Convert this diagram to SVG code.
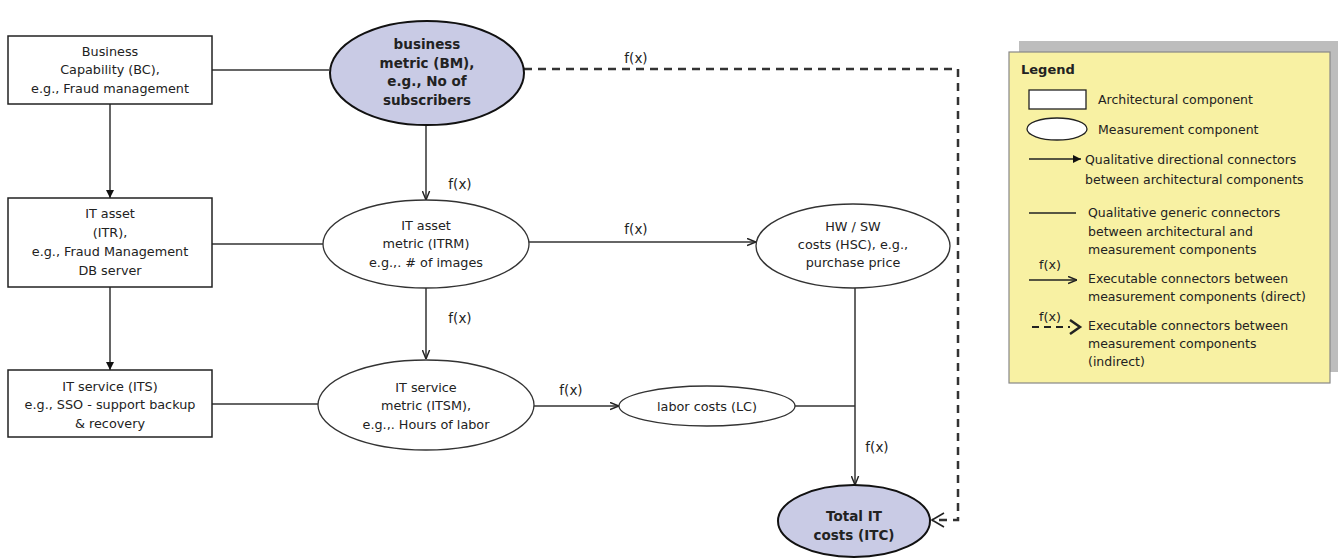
<svg xmlns="http://www.w3.org/2000/svg" width="1338" height="558" viewBox="0 0 1338 558">
<defs>
<marker id="tri" viewBox="0 0 10 10" refX="10" refY="5" markerWidth="8" markerHeight="8" markerUnits="userSpaceOnUse" orient="auto"><path d="M0,0 L10,5 L0,10 z" fill="#111"/></marker>
<marker id="vee" viewBox="0 0 10 10" refX="10" refY="5" markerWidth="9" markerHeight="9" markerUnits="userSpaceOnUse" orient="auto"><path d="M0,1 L10,5 L0,9" fill="none" stroke="#222" stroke-width="1.6"/></marker>
</defs>
<style>
text{font-family:"DejaVu Sans","Liberation Sans",sans-serif;font-size:12.8px;fill:#222;text-anchor:middle}
.b{font-weight:bold;font-size:13.5px}
.l{text-anchor:start;font-size:12.5px}
.f{font-size:13.5px}
.arch{fill:#fff;stroke:#222;stroke-width:1.5}
.meas{fill:#fff;stroke:#333;stroke-width:1.3}
.key{fill:#c9cbe5;stroke:#111;stroke-width:2}
.c{fill:none;stroke:#333;stroke-width:1.5}
.d{fill:none;stroke:#333;stroke-width:2.5;stroke-dasharray:8 6}
</style>
<rect width="1338" height="558" fill="#fff"/>
<g id="connectors">
<line class="c" x1="212" y1="70" x2="329" y2="70"/>
<line class="c" x1="110" y1="104" x2="110" y2="198" marker-end="url(#tri)"/>
<line class="c" x1="110" y1="287" x2="110" y2="370" marker-end="url(#tri)"/>
<line class="c" x1="212" y1="244" x2="323" y2="244"/>
<line class="c" x1="212" y1="404" x2="318" y2="404"/>
<line class="c" x1="426" y1="125" x2="426" y2="200" marker-end="url(#vee)"/>
<text class="f" x="460" y="189">f(x)</text>
<line class="c" x1="426" y1="288" x2="426" y2="359" marker-end="url(#vee)"/>
<text class="f" x="460" y="323">f(x)</text>
<line class="c" x1="529" y1="242" x2="756" y2="242" marker-end="url(#vee)"/>
<text class="f" x="636" y="234">f(x)</text>
<line class="c" x1="533" y1="406" x2="619" y2="406" marker-end="url(#vee)"/>
<text class="f" x="571" y="395">f(x)</text>
<line class="c" x1="795" y1="406" x2="855" y2="406"/>
<line class="c" x1="855" y1="288" x2="855" y2="406"/>
<line class="c" x1="855" y1="406" x2="855" y2="485" marker-end="url(#vee)"/>
<text class="f" x="877" y="452">f(x)</text>
<path class="d" d="M524,69 H958 V520 H932"/>
<path d="M944,513 L932,520 L944,527" fill="none" stroke="#222" stroke-width="1.6"/>
<text class="f" x="636" y="63">f(x)</text>
</g>
<g id="bc">
<rect class="arch" x="8" y="36" width="204" height="68"/>
<text x="110" y="56">Business</text>
<text x="110" y="74">Capability (BC),</text>
<text x="110" y="93">e.g., Fraud management</text>
</g>
<g id="bm">
<ellipse class="key" cx="427" cy="73" rx="97" ry="52"/>
<text class="b" x="427" y="49">business</text>
<text class="b" x="427" y="68">metric (BM),</text>
<text class="b" x="427" y="86">e.g., No of</text>
<text class="b" x="427" y="105">subscribers</text>
</g>
<g id="ita">
<rect class="arch" x="8" y="198" width="204" height="89"/>
<text x="110" y="218">IT asset</text>
<text x="110" y="237">(ITR),</text>
<text x="110" y="256">e.g., Fraud Management</text>
<text x="110" y="275">DB server</text>
</g>
<g id="itrm">
<ellipse class="meas" cx="426" cy="244" rx="103" ry="44"/>
<text x="426" y="230">IT asset</text>
<text x="426" y="248">metric (ITRM)</text>
<text x="426" y="267">e.g.,. # of images</text>
</g>
<g id="hsc">
<ellipse class="meas" cx="853" cy="246" rx="97" ry="42"/>
<text x="853" y="231">HW / SW</text>
<text x="853" y="249">costs (HSC), e.g.,</text>
<text x="853" y="267">purchase price</text>
</g>
<g id="its">
<rect class="arch" x="8" y="370" width="204" height="67"/>
<text x="110" y="391">IT service (ITS)</text>
<text x="110" y="409">e.g., SSO - support backup</text>
<text x="110" y="428">&amp; recovery</text>
</g>
<g id="itsm">
<ellipse class="meas" cx="426" cy="405" rx="108" ry="45"/>
<text x="426" y="392">IT service</text>
<text x="426" y="410">metric (ITSM),</text>
<text x="426" y="429">e.g.,. Hours of labor</text>
</g>
<g id="lc">
<ellipse class="meas" cx="707" cy="406" rx="88" ry="20"/>
<text x="707" y="411">labor costs (LC)</text>
</g>
<g id="itc">
<ellipse class="key" cx="854" cy="521" rx="76" ry="36"/>
<text class="b" x="854" y="521">Total IT</text>
<text class="b" x="854" y="540">costs (ITC)</text>
</g>
<g id="legend">
<rect x="1019" y="41" width="330" height="331" fill="#bdbdbd"/>
<rect x="1009" y="52" width="321" height="331" fill="#f8f1a3" stroke="#888" stroke-width="1.2"/>
<text class="l" x="1021" y="74" style="font-weight:bold;font-size:13px">Legend</text>
<rect x="1029" y="90" width="57" height="19" fill="#fff" stroke="#222" stroke-width="1.3"/>
<text class="l" x="1098" y="104">Architectural component</text>
<ellipse cx="1057" cy="129" rx="30" ry="11" fill="#fff" stroke="#222" stroke-width="1.3"/>
<text class="l" x="1098" y="134">Measurement component</text>
<line x1="1029" y1="159" x2="1081" y2="159" stroke="#222" stroke-width="1.3" marker-end="url(#tri)"/>
<text class="l" x="1085" y="164">Qualitative directional connectors</text>
<text class="l" x="1085" y="184">between architectural components</text>
<line x1="1029" y1="213" x2="1076" y2="213" stroke="#222" stroke-width="1.3"/>
<text class="l" x="1088" y="217">Qualitative generic connectors</text>
<text class="l" x="1088" y="236">between architectural and</text>
<text class="l" x="1088" y="254">measurement components</text>
<text x="1050" y="269">f(x)</text>
<line x1="1029" y1="280" x2="1077" y2="280" stroke="#222" stroke-width="1.3" marker-end="url(#vee)"/>
<text class="l" x="1088" y="283">Executable connectors between</text>
<text class="l" x="1088" y="301">measurement components (direct)</text>
<text x="1050" y="321">f(x)</text>
<line x1="1032" y1="327" x2="1070" y2="327" stroke="#222" stroke-width="2" stroke-dasharray="7 5"/>
<path d="M1070,320 L1080,327 L1070,334" fill="none" stroke="#222" stroke-width="2.5"/>
<text class="l" x="1088" y="330">Executable connectors between</text>
<text class="l" x="1088" y="348">measurement components</text>
<text class="l" x="1088" y="366">(indirect)</text>
</g>
</svg>
